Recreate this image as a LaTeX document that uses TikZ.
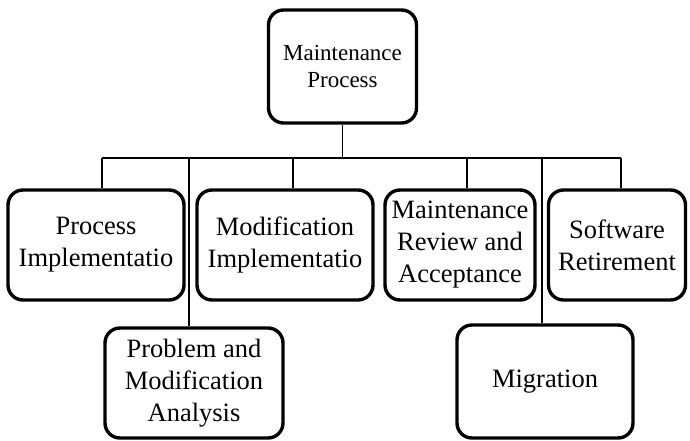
\documentclass[tikz,border=0pt]{standalone}
\usepackage{fontspec}
\setmainfont{Liberation Serif}
\begin{document}
\begin{tikzpicture}[x=1pt,y=-1pt,
  box/.style={draw=black, line width=3.4pt, rounded corners=15pt, fill=white,
    align=center, inner sep=0pt, font=\fontsize{26.5}{32}\selectfont},
  topbox/.style={box, font=\fontsize{23}{27}\selectfont},
  link/.style={draw=black, line width=1.2pt}]
\useasboundingbox (0,0) rectangle (690,441);

% root
\node[topbox, minimum width=148pt, minimum height=113pt] (root) at (342.5,66.5) {Maintenance\\Process};

% first row
\node[box, minimum width=176pt, minimum height=110pt] (pimpl) at (96,245) {Process\\Implementatio};
\node[box, minimum width=176pt, minimum height=110pt] (mimpl) at (285,245) {Modification\\Implementatio};
\node[box, minimum width=150pt, minimum height=110pt] (review) at (460,245) {Maintenance\\Review and\\Acceptance};
\node[box, minimum width=137pt, minimum height=110pt] (retire) at (617,245) {Software\\Retirement};

% second row
\node[box, minimum width=178pt, minimum height=110pt] (analysis) at (194,383) {Problem and\\Modification\\Analysis};
\node[box, minimum width=176pt, minimum height=113pt] (migr) at (545,381.5) {Migration};

% tree junctions on the horizontal bar
\coordinate (j1) at (102,158);
\coordinate (j2) at (189,158);
\coordinate (j3) at (293,158);
\coordinate (j4) at (467,158);
\coordinate (j5) at (542,158);
\coordinate (j6) at (621,158);

\begin{scope}[on background layer/.try]
\draw[link] (root.south) -- (root.south |- j1);
\draw[link] (j1) -- (j6);
\draw[link] (j1) -- (j1 |- pimpl.north);
\draw[link] (j2) -- (j2 |- analysis.north);
\draw[link] (j3) -- (j3 |- mimpl.north);
\draw[link] (j4) -- (j4 |- review.north);
\draw[link] (j5) -- (j5 |- migr.north);
\draw[link] (j6) -- (j6 |- retire.north);
\end{scope}
\end{tikzpicture}
\end{document}
